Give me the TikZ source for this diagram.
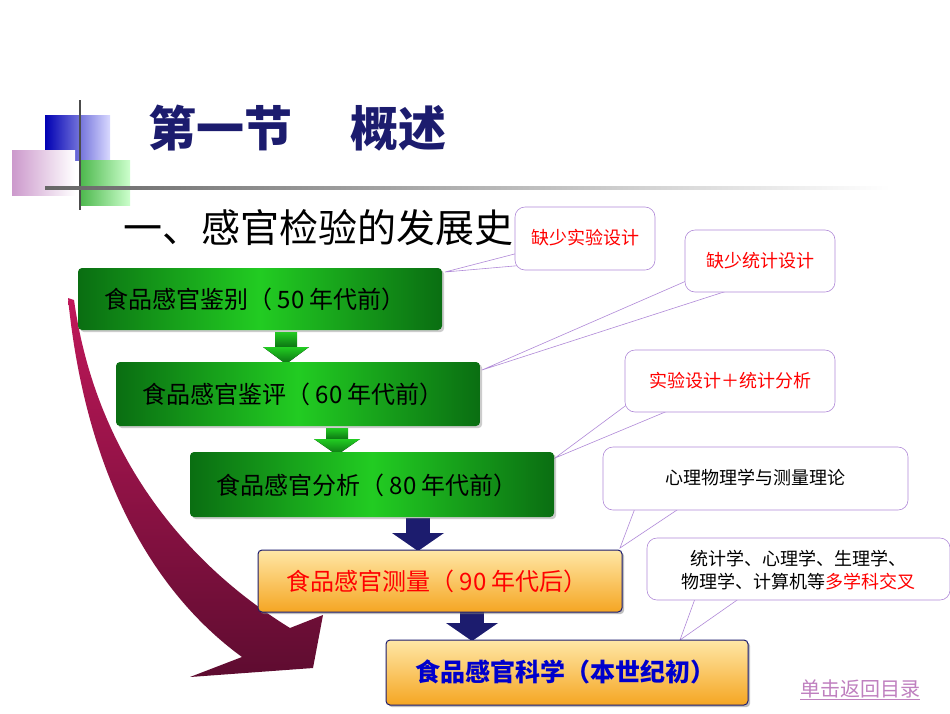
\documentclass[tikz,border=0pt]{standalone}
\usepackage{fontspec}
\newfontfamily\cjk{Noto Sans CJK SC}
\usetikzlibrary{shadows}
\definecolor{navy}{HTML}{1C1C6E}
\definecolor{gdark}{HTML}{0A6E12}
\definecolor{glight}{HTML}{22CC22}
\definecolor{olight}{HTML}{FFE7A6}
\definecolor{odark}{HTML}{F5A623}
\definecolor{callb}{HTML}{B089D8}
\definecolor{crimt}{HTML}{C0185A}
\definecolor{crimb}{HTML}{5E0C30}
\tikzset{
 gbox/.style={rounded corners=4pt,left color=gdark,right color=gdark,middle color=glight,draw=none,drop shadow={opacity=0.4}},
 obox/.style={rounded corners=4pt,top color=olight,bottom color=odark,draw=navy,line width=1pt,drop shadow={opacity=0.5}},
 call/.style={fill=white,draw=callb,line width=0.6pt,rounded corners=10pt},
 ptr/.style={fill=white,draw=callb,line width=0.6pt},
 btxt/.style={font=\cjk\fontsize{24}{28}\selectfont,anchor=center},
 ctxt/.style={font=\cjk\fontsize{18}{23}\selectfont,align=center},
 garr/.style={top color=glight,bottom color=gdark,draw=none},
 narr/.style={fill=navy,draw=none}
}
\begin{document}
\begin{tikzpicture}[x=1pt,y=-1pt]
\useasboundingbox (0,0) rectangle (950,713);
\fill[white] (0,0) rectangle (950,713);
% decoration
\fill[left color=blue!70!black,right color=blue!15] (45,115) rectangle (110,160);
\fill[left color=violet!40,right color=white] (12,150) rectangle (75,195);
\fill[left color=green!60!black!70,right color=green!20] (80,160) rectangle (130,205);
\draw[black!70,line width=1.2pt] (80,100) -- (80,210);
\shade[left color=black!60,right color=white] (45,186) rectangle (890,189);
\node[font=\cjk\bfseries\fontsize{48}{52}\selectfont,text=navy,anchor=west] (title) at (145,128) {第一节\hspace{1.2em}概述};
\node[font=\cjk\fontsize{39}{44}\selectfont,anchor=west] (sub) at (120,228) {一、感官检验的发展史};
% curved arrow
\shade[top color=crimt,bottom color=crimb] (68,298) .. controls (85,470) and (150,590) .. (242,657) -- (190,677) -- (313,668) -- (323,615) -- (290,628) .. controls (180,560) and (95,450) .. (74,300) -- cycle;
% callouts
\fill[ptr] (530,250) -- (445,272) -- (560,262) -- cycle;
\draw[call] (515,207) rectangle (655,270);
\node[ctxt,text=red] (c1) at (585,238) {缺少实验设计};
\fill[ptr] (700,275) -- (482,370) -- (730,290) -- cycle;
\draw[call] (685,230) rectangle (835,292);
\node[ctxt,text=red] (c2) at (760,261) {缺少统计设计};
\fill[ptr] (640,395) -- (555,458) -- (670,410) -- cycle;
\draw[call] (625,350) rectangle (835,412);
\node[ctxt,text=red] (c3) at (730,381) {实验设计＋统计分析};
\fill[ptr] (640,495) -- (620,548) -- (680,508) -- cycle;
\draw[call] (603,447) rectangle (908,510);
\node[ctxt] (c4) at (755,478) {心理物理学与测量理论};
\fill[ptr] (700,585) -- (680,640) -- (740,598) -- cycle;
\draw[call] (647,538) rectangle (950,600);
\node[ctxt] (c5) at (798,570) {统计学、心理学、生理学、\\物理学、计算机等\textcolor{red}{多学科交叉}};
% arrows
\fill[garr] (275,332) rectangle (297,348);
\fill[garr] (263,347) -- (309,347) -- (286,364) -- cycle;
\fill[garr] (326,428) rectangle (348,440);
\fill[garr] (314,439) -- (360,439) -- (337,455) -- cycle;
\fill[narr] (406,518) rectangle (430,534);
\fill[narr] (392,533) -- (444,533) -- (418,551) -- cycle;
\fill[narr] (460,612) rectangle (484,624);
\fill[narr] (446,623) -- (498,623) -- (472,641) -- cycle;
% boxes
\draw[gbox] (78,268) rectangle (442,330);
\node[btxt] (b1) at (255,299) {食品感官鉴别（ 50 年代前）};
\draw[gbox] (116,362) rectangle (480,426);
\node[btxt] (b2) at (293,394) {食品感官鉴评（ 60 年代前）};
\draw[gbox] (190,452) rectangle (554,517);
\node[btxt] (b3) at (367,485) {食品感官分析（ 80 年代前）};
\draw[obox] (258,550) rectangle (622,612);
\node[btxt,text=red] (b4) at (437,581) {食品感官测量（ 90 年代后）};
\draw[obox] (386,640) rectangle (748,705);
\node[btxt,text=blue!80!black,font=\cjk\bfseries\fontsize{25}{28}\selectfont] (b5) at (565,672) {食品感官科学（本世纪初）};
\node[font=\fontsize{20}{24}\selectfont\cjk,text=violet!50] (back) at (860,690) {\underline{单击返回目录}};
\end{tikzpicture}
\end{document}
